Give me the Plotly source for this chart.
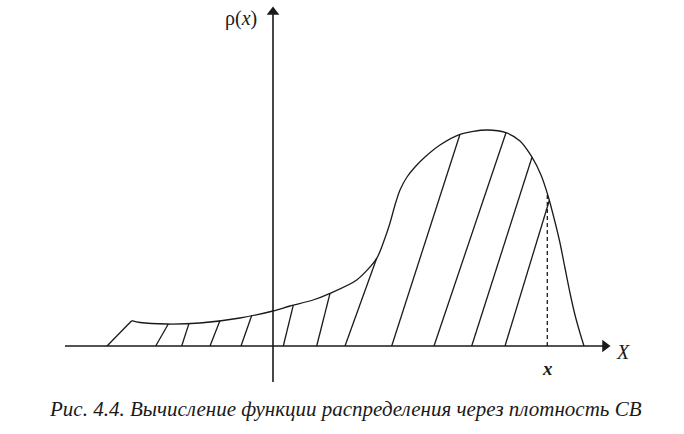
import numpy as np
import plotly.graph_objects as go

# density curve rho(x) (arbitrary units; origin where the axes cross)
curve_x = [-141.3, -133, -106.3, -73, -33, 0, 17, 40, 57, 83.7, 103.7, 112, 117, 122, 127, 134, 142,
           152, 167, 187, 213.7, 233, 247, 258.7, 268, 275.3, 282, 287, 292, 297, 302, 307, 311]
curve_y = [25.3, 23.5, 22, 23, 28, 35, 40, 46, 52.7, 66, 87.7, 108, 123, 141, 156, 169, 179,
           189, 201, 211.7, 216, 213.3, 205, 189.3, 171, 149.3, 124, 103, 78, 53, 31, 13, 0]

# hatch lines: start on the X axis, end on the curve
hatch_base = [-166, -117.3, -91.3, -63, -32, 10.3, 43.7, 72, 118.7, 161, 198.7, 232]
hatch_top = [-141.3, -104.7, -84, -53, -21.3, 20.3, 57, 103.7, 187, 233, 259, 276.3]

x_mark = 274.3  # the point x
x_axis = [-208, 332]
y_axis = [-36, 334]

caption = "Рис. 4.4. Вычисление функции распределения через плотность СВ"

ink = "#1a1a1a"
fig = go.Figure()

# axes
fig.add_trace(go.Scatter(x=x_axis, y=[0, 0], mode="lines", line=dict(color=ink, width=1.6),
                         hoverinfo="skip"))
fig.add_trace(go.Scatter(x=[0, 0], y=y_axis, mode="lines", line=dict(color=ink, width=1.6),
                         hoverinfo="skip"))
fig.add_trace(go.Scatter(x=[x_axis[1]], y=[0], mode="markers",
                         marker=dict(symbol="triangle-right", size=11, color=ink), hoverinfo="skip"))
fig.add_trace(go.Scatter(x=[0], y=[y_axis[1]], mode="markers",
                         marker=dict(symbol="triangle-up", size=11, color=ink), hoverinfo="skip"))

# hatching
hx, hy = [], []
ytops = np.interp(hatch_top, curve_x, curve_y)
for b, t, yt in zip(hatch_base, hatch_top, ytops):
    hx += [b, t, None]
    hy += [0, float(yt), None]
fig.add_trace(go.Scatter(x=hx, y=hy, mode="lines", line=dict(color=ink, width=1.3),
                         hoverinfo="skip"))

# curve
fig.add_trace(go.Scatter(x=curve_x, y=curve_y, mode="lines",
                         line=dict(color=ink, width=1.3, shape="spline", smoothing=0.8),
                         hoverinfo="skip"))

# dashed line at x
ym = float(np.interp(x_mark, curve_x, curve_y))
fig.add_trace(go.Scatter(x=[x_mark, x_mark], y=[0, ym], mode="lines",
                         line=dict(color=ink, width=1.3, dash="4px,3px"), hoverinfo="skip"))

font = "Liberation Serif"
fig.add_annotation(x=-32, y=328, text="ρ(<i>x</i>)", showarrow=False,
                   font=dict(family=font, size=20, color=ink))
fig.add_annotation(x=350, y=-6, text="<i>X</i>", showarrow=False,
                   font=dict(family=font, size=20, color=ink))
fig.add_annotation(x=x_mark, y=-22, text="<b><i>x</i></b>", showarrow=False,
                   font=dict(family=font, size=19, color=ink))
fig.add_annotation(x=72, y=-63, text="<i>" + caption + "</i>", showarrow=False,
                   font=dict(family=font, size=21, color=ink))

fig.update_layout(
    width=684, height=434, margin=dict(l=0, r=0, t=0, b=0),
    paper_bgcolor="white", plot_bgcolor="white", showlegend=False,
    font=dict(family=font),
    xaxis=dict(range=[-273, 411], visible=False),
    yaxis=dict(range=[-88, 346], visible=False),
)
fig.write_html("out.html")
